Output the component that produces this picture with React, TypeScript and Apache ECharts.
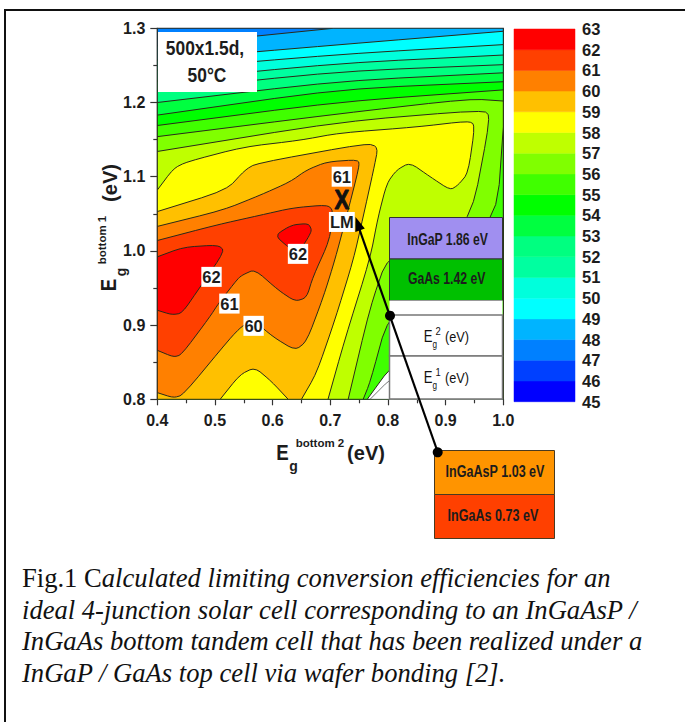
import React, { useEffect, useRef } from "react";
import * as echarts from "echarts";

type Pt = [number, number];

const xTicks = { min: 0.4, max: 1.0, step: 0.1 };
const yTicks = { min: 0.8, max: 1.3, step: 0.1 };
const legendLevels = [45, 46, 47, 48, 49, 50, 51, 52, 53, 54, 55, 56, 57, 58, 59, 60, 61, 62];
const legendColors = [
  "#0000ff", "#0040ff", "#0080ff", "#00b4ff", "#00ffff", "#00ffdc", "#00ffa0", "#00ff80", "#00ff40",
  "#00ff00", "#40ff00", "#80ff00", "#bfff00", "#ffff00", "#ffc000", "#ff8000", "#ff4000", "#ff0000",
];

// Contour lines, each as [Eg bottom 2, Eg bottom 1]
const line48: Pt[] = [[0.4, 1.276], [0.705, 1.3], [1.0, 1.3]];
const line49: Pt[] = [[0.4, 1.257], [0.717, 1.278], [1.0, 1.296]];
const line50: Pt[] = [[0.4, 1.244], [0.717, 1.265], [1.0, 1.278]];
const line51: Pt[] = [[0.4, 1.229], [0.717, 1.253], [1.0, 1.264]];
const line52: Pt[] = [[0.4, 1.216], [0.717, 1.242], [1.0, 1.251]];
const line53: Pt[] = [[0.4, 1.2], [0.717, 1.229], [1.0, 1.24]];
const line54: Pt[] = [[0.4, 1.183], [0.717, 1.218], [1.0, 1.228]];
const line55: Pt[] = [[0.4, 1.169], [0.717, 1.201], [1.0, 1.217]];
const line56: Pt[] = [
  [0.4, 1.154], [0.717, 1.185], [0.942, 1.205], [1.0, 1.202], [1.0, 1.167], [0.989, 1.046],
  [0.89, 0.974], [0.8, 0.911], [0.769, 0.823], [0.757, 0.8],
];
const line57: Pt[] = [
  [0.4, 1.134], [0.717, 1.174], [0.965, 1.19], [0.978, 1.181], [0.945, 1.046], [0.89, 1.015],
  [0.8, 0.994], [0.769, 0.924], [0.731, 0.8],
];
const line58: Pt[] = [
  [0.4, 1.082], [0.428, 1.111], [0.451, 1.12], [0.549, 1.14], [0.647, 1.149], [0.717, 1.159], [0.85, 1.167],
  [0.939, 1.175], [0.951, 1.17], [0.939, 1.105], [0.922, 1.089], [0.908, 1.082], [0.873, 1.1], [0.838, 1.119],
  [0.815, 1.109], [0.798, 1.091], [0.783, 1.046], [0.769, 0.99], [0.725, 0.88], [0.696, 0.8],
];
const line59: Pt[] = [
  [0.4, 1.053], [0.52, 1.082], [0.552, 1.109], [0.572, 1.118], [0.763, 1.145], [0.783, 1.14], [0.775, 1.109],
  [0.757, 1.046], [0.74, 0.988], [0.708, 0.907], [0.676, 0.835], [0.65, 0.8], [0.627, 0.8], [0.598, 0.824],
  [0.569, 0.843], [0.543, 0.833], [0.509, 0.8],
];
const line60: Pt[] = [
  [0.4, 1.033], [0.514, 1.055], [0.578, 1.075], [0.63, 1.093], [0.659, 1.109], [0.694, 1.12], [0.749, 1.123],
  [0.75, 1.113], [0.728, 1.046], [0.708, 0.988], [0.688, 0.938], [0.659, 0.878], [0.639, 0.866], [0.601, 0.884],
  [0.566, 0.907], [0.546, 0.898], [0.526, 0.882], [0.445, 0.806], [0.428, 0.802], [0.4, 0.809],
];
const line61: Pt[] = [
  [0.4, 1.014], [0.503, 1.035], [0.578, 1.048], [0.635, 1.058], [0.694, 1.062], [0.705, 1.055], [0.699, 1.015],
  [0.67, 0.965], [0.659, 0.937], [0.639, 0.932], [0.61, 0.947], [0.569, 0.975], [0.549, 0.968], [0.54, 0.963],
  [0.506, 0.929], [0.491, 0.911], [0.442, 0.86], [0.428, 0.857], [0.4, 0.866],
];
const line62a: Pt[] = [
  [0.4, 0.92], [0.425, 0.914], [0.443, 0.916], [0.474, 0.951], [0.517, 1.0], [0.505, 1.008], [0.445, 1.005], [0.4, 0.992],
];
const line62b: Pt[] = [
  [0.604, 1.021], [0.633, 1.035], [0.662, 1.037], [0.668, 1.028], [0.661, 1.017], [0.644, 0.997], [0.627, 1.005],
];
const noDataOuter: Pt[] = [[0.764, 0.8], [0.81, 0.849], [0.81, 0.8]];
const noDataInner: Pt[] = [[0.769, 0.8], [0.81, 0.832], [0.81, 0.8]];

const spotLabels: [number, number, string][] = [
  [0.72, 1.1, "61"],
  [0.72, 1.039, "LM"],
  [0.644, 0.996, "62"],
  [0.494, 0.965, "62"],
  [0.525, 0.929, "61"],
  [0.567, 0.899, "60"],
];
const optimum: [number, number, string][] = [[0.72, 1.069, "X"]];

const captionLines = [
  "ideal 4-junction solar cell corresponding to an InGaAsP /",
  "InGaAs bottom tandem cell that has been realized under a",
  "InGaP / GaAs top cell via wafer bonding [2].",
];

const ARIAL = '"Liberation Sans",Arial,sans-serif';
const SERIF = '"Liberation Serif","Times New Roman",serif';
const INK = "#1c1c1c";
const CONTOUR = "#2a2a1a";
const CAPTION_SIZE = 26.6;

const corners: Pt[] = [[1.0, 0.8], [0.4, 0.8]];
const c = (lvl: number) => legendColors[legendLevels.indexOf(lvl)];
const bands: { pts: Pt[]; fill: string; stroke?: string }[] = [
  { pts: [[0.4, 1.3], [1.0, 1.3], ...corners], fill: c(47) },
  { pts: [...line48, ...corners], fill: c(48) },
  { pts: [...line49, ...corners], fill: c(49) },
  { pts: [...line50, ...corners], fill: c(50) },
  { pts: [...line51, ...corners], fill: c(51) },
  { pts: [...line52, ...corners], fill: c(52) },
  { pts: [...line53, ...corners], fill: c(53) },
  { pts: [...line54, ...corners], fill: c(54) },
  { pts: [...line55, ...corners], fill: c(55) },
  { pts: [...line56, [0.4, 0.8]], fill: c(56) },
  { pts: [...line57, [0.4, 0.8]], fill: c(57) },
  { pts: [...line58, [0.4, 0.8]], fill: c(58) },
  { pts: [...line59, [0.4, 0.8]], fill: c(59) },
  { pts: line60, fill: c(60) },
  { pts: line61, fill: c(61) },
  { pts: line62a, fill: c(62) },
  { pts: line62b, fill: c(62) },
  { pts: noDataOuter, fill: "#ffffff" },
  { pts: noDataInner, fill: "#ffffff", stroke: "#777777" },
];

// Rounds the drawn corners of a contour; vertices on the plot's edge stay put.
const onEdge = (p: Pt) =>
  Math.abs(p[0] - 0.4) < 1e-6 || Math.abs(p[0] - 1) < 1e-6 || Math.abs(p[1] - 0.8) < 1e-6 || Math.abs(p[1] - 1.3) < 1e-6;
const lerp = (a: Pt, b: Pt, t: number): Pt => [a[0] + (b[0] - a[0]) * t, a[1] + (b[1] - a[1]) * t];
function roundCorners(pts: Pt[], t: number, passes: number): Pt[] {
  let cur = pts;
  for (let k = 0; k < passes; k++) {
    const out: Pt[] = [];
    cur.forEach((p, i) => {
      if (onEdge(p)) { out.push(p); return; }
      const prev = cur[(i - 1 + cur.length) % cur.length];
      const next = cur[(i + 1) % cur.length];
      out.push(lerp(p, prev, t), lerp(p, next, t));
    });
    cur = out;
  }
  return cur;
}

const txt = (
  text: string, x: number, y: number, fontSize: number,
  opts: { weight?: string | number; fill?: string; rotation?: number; scaleX?: number; scaleY?: number } = {},
) => ({
  type: "text", x, y, z: 30, rotation: opts.rotation ?? 0, scaleX: opts.scaleX ?? 1, scaleY: opts.scaleY ?? 1,
  style: {
    text, fontSize, fontFamily: ARIAL, fontWeight: opts.weight ?? "bold",
    fill: opts.fill ?? INK, align: "center", verticalAlign: "middle",
  },
});
const box = (x: number, y: number, width: number, height: number, fill: string, stroke = "#333333", lineWidth = 1, z = 20) => ({
  type: "rect", z, shape: { x, y, width, height }, style: { fill, stroke, lineWidth },
});

function buildOption() {
  const deg90 = Math.PI / 2;
  const n = { weight: "normal", scaleX: 0.82, fill: "#111111" };
  const graphic: any[] = [
    { type: "polyline", z: 40, shape: { points: [[5, 722], [5, 10], [685, 10]] }, style: { fill: "none", stroke: "#111111", lineWidth: 2 } },
    box(158, 32, 99, 60, "#ffffff", "none", 0),
    txt("500x1.5d,", 205, 48, 20, { scaleX: 0.87 }),
    txt("50°C", 207, 75, 20, { scaleX: 0.87 }),
    box(389.5, 217.5, 113, 41.5, "#a08ff0", "#333333"),
    box(389.5, 259, 113, 41.5, "#00c000", "#333333"),
    box(389.5, 300.5, 113, 99, "#ffffff", "none", 0),
    box(389.5, 315, 113, 41, "#ffffff", "#777777", 1.5),
    box(389.5, 356, 113, 43, "#ffffff", "#777777", 1.5),
    txt("InGaP 1.86 eV", 447.7, 239, 17, { scaleX: 0.72 }),
    txt("GaAs 1.42 eV", 446.7, 278, 17, { scaleX: 0.72 }),
    txt("E", 428, 337, 16, n),
    txt("g", 434.8, 345, 10, n),
    txt("2", 438, 331, 11.5, n),
    txt("(eV)", 457, 337, 15.5, n),
    txt("E", 428, 378, 16, n),
    txt("g", 434.8, 386, 10, n),
    txt("1", 438, 372, 11.5, n),
    txt("(eV)", 457, 378, 15.5, n),
    box(434.5, 450.5, 120, 44, "#ff9400", "#4a3a20"),
    box(434.5, 494.5, 120, 44, "#ff4000", "#4a3a20"),
    txt("InGaAsP 1.03 eV", 495, 471, 17, { scaleX: 0.74 }),
    txt("InGaAs 0.73 eV", 493, 515, 17, { scaleX: 0.74 }),
    { type: "line", z: 35, shape: { x1: 437.7, y1: 452, x2: 359, y2: 228 }, style: { stroke: "#000000", lineWidth: 2.2 } },
    { type: "polygon", z: 35, shape: { points: [[355.5, 217], [364.8, 228.6], [355.4, 231.9]] }, style: { fill: "#000000" } },
    { type: "circle", z: 35, shape: { cx: 390, cy: 315.7, r: 5 }, style: { fill: "#000000" } },
    { type: "circle", z: 35, shape: { cx: 437.7, cy: 452.3, r: 5 }, style: { fill: "#000000" } },
    txt("E", 282.5, 452, 22, { scaleX: 0.85 }),
    txt("g", 293.5, 466, 14),
    txt("bottom 2", 320, 443, 11.5),
    txt("(eV)", 366, 453, 20),
    txt("E", 108, 285, 22, { rotation: deg90, scaleX: 0.85 }),
    txt("g", 121, 272, 14, { rotation: deg90 }),
    txt("bottom 1", 102, 240, 11.5, { rotation: deg90 }),
    txt("(eV)", 110, 183, 20, { rotation: deg90 }),
    {
      type: "text", x: 22, y: 578, z: 30,
      style: {
        text: "{r|Fig.1 C}{i|alculated limiting conversion efficiencies for an}",
        verticalAlign: "middle", align: "left", fill: "#111111",
        rich: {
          r: { fontFamily: SERIF, fontSize: CAPTION_SIZE, fill: "#111111" },
          i: { fontFamily: SERIF, fontSize: CAPTION_SIZE, fontStyle: "italic", fill: "#111111" },
        },
      },
    },
    ...captionLines.map((t, i) => ({
      type: "text", x: 22, y: 609.5 + i * 31.5, z: 30,
      style: { text: t, fontFamily: SERIF, fontSize: CAPTION_SIZE, fontStyle: "italic", fill: "#111111", align: "left", verticalAlign: "middle" },
    })),
  ];

  const tickLabel = { fontFamily: ARIAL, fontWeight: "bold" as const, fontSize: 16, color: INK };
  const axisStyle = { color: "#333", width: 1.2 };

  return {
    animation: false,
    backgroundColor: "#ffffff",
    grid: [
      { left: 157.3, top: 28.3, width: 346, height: 371, show: true, backgroundColor: "transparent", borderColor: "#333", borderWidth: 1.2 },
      { left: 514, top: 29, width: 61, height: 372.7, show: false },
    ],
    xAxis: [
      {
        type: "value", gridIndex: 0, min: xTicks.min, max: xTicks.max, interval: xTicks.step,
        splitLine: { show: false },
        axisLine: { show: true, lineStyle: axisStyle },
        axisTick: { show: true, length: 6, lineStyle: axisStyle },
        minorTick: { show: true, splitNumber: 2, length: 4, lineStyle: axisStyle },
        axisLabel: { ...tickLabel, margin: 13, formatter: (v: number) => v.toFixed(1) },
      },
      { type: "value", gridIndex: 1, min: 0, max: 1, show: false },
    ],
    yAxis: [
      {
        type: "value", gridIndex: 0, min: yTicks.min, max: yTicks.max, interval: yTicks.step,
        splitLine: { show: false },
        axisLine: { show: true, lineStyle: axisStyle },
        axisTick: { show: true, length: 7, lineStyle: axisStyle },
        minorTick: { show: true, splitNumber: 2, length: 4, lineStyle: axisStyle },
        axisLabel: { ...tickLabel, margin: 12, formatter: (v: number) => v.toFixed(1) },
      },
      {
        type: "value", gridIndex: 1, min: 45, max: 63, interval: 1, position: "right",
        splitLine: { show: false }, axisLine: { show: false }, axisTick: { show: false },
        axisLabel: { fontFamily: ARIAL, fontWeight: "bold", fontSize: 16.5, color: INK, margin: 7, padding: [4, 0, 0, 0] },
      },
    ],
    series: [
      {
        type: "custom", xAxisIndex: 0, yAxisIndex: 0, z: 2, clip: true,
        data: bands.map((b) => [b.pts[0][0], b.pts[0][1]]),
        renderItem: (params: any, api: any) => {
          const b = bands[params.dataIndex];
          return {
            type: "polygon",
            shape: { points: roundCorners(b.pts, 0.2, 2).map((p) => api.coord(p)) },
            style: { fill: b.fill, stroke: b.stroke ?? CONTOUR, lineWidth: 1 },
          };
        },
        silent: true,
      },
      {
        type: "custom", xAxisIndex: 1, yAxisIndex: 1, z: 2,
        data: legendLevels.map((l) => [0, l]),
        renderItem: (params: any, api: any) => {
          const l = legendLevels[params.dataIndex];
          const a = api.coord([0, l + 1]);
          const b = api.coord([1, l]);
          return {
            type: "rect",
            shape: { x: a[0], y: a[1], width: b[0] - a[0], height: b[1] - a[1] },
            style: { fill: legendColors[params.dataIndex], stroke: legendColors[params.dataIndex], lineWidth: 0.5 },
          };
        },
        silent: true,
      },
      {
        type: "scatter", xAxisIndex: 0, yAxisIndex: 0, z: 5, symbolSize: 0,
        itemStyle: { opacity: 1 },
        data: spotLabels,
        label: {
          show: true, position: "inside", opacity: 1, formatter: (p: any) => p.value[2],
          fontFamily: ARIAL, fontWeight: "bold", fontSize: 16.5, color: INK,
          backgroundColor: "#ffffff", padding: [2, 1, 1, 1],
        },
        silent: true,
      },
      {
        type: "custom", xAxisIndex: 0, yAxisIndex: 0, z: 5, clip: false,
        data: optimum,
        renderItem: (params: any, api: any) => {
          const p = api.coord([optimum[params.dataIndex][0], optimum[params.dataIndex][1]]);
          return {
            type: "text", x: p[0], y: p[1], scaleX: 0.82,
            style: {
              text: optimum[params.dataIndex][2], fontFamily: ARIAL, fontWeight: "bold", fontSize: 27,
              fill: "#111111", stroke: "#111111", lineWidth: 1, align: "center", verticalAlign: "middle",
            },
          };
        },
        silent: true,
      },
    ],
    graphic: { elements: graphic },
  };
}

export default function App() {
  const ref = useRef<HTMLDivElement>(null);
  useEffect(() => {
    if (!ref.current) return;
    const chart = echarts.init(ref.current, undefined, { renderer: "svg" });
    chart.setOption(buildOption() as any);
    return () => chart.dispose();
  }, []);
  return <div ref={ref} style={{ position: "fixed", left: 0, top: 0, width: 685, height: 722 }} />;
}
